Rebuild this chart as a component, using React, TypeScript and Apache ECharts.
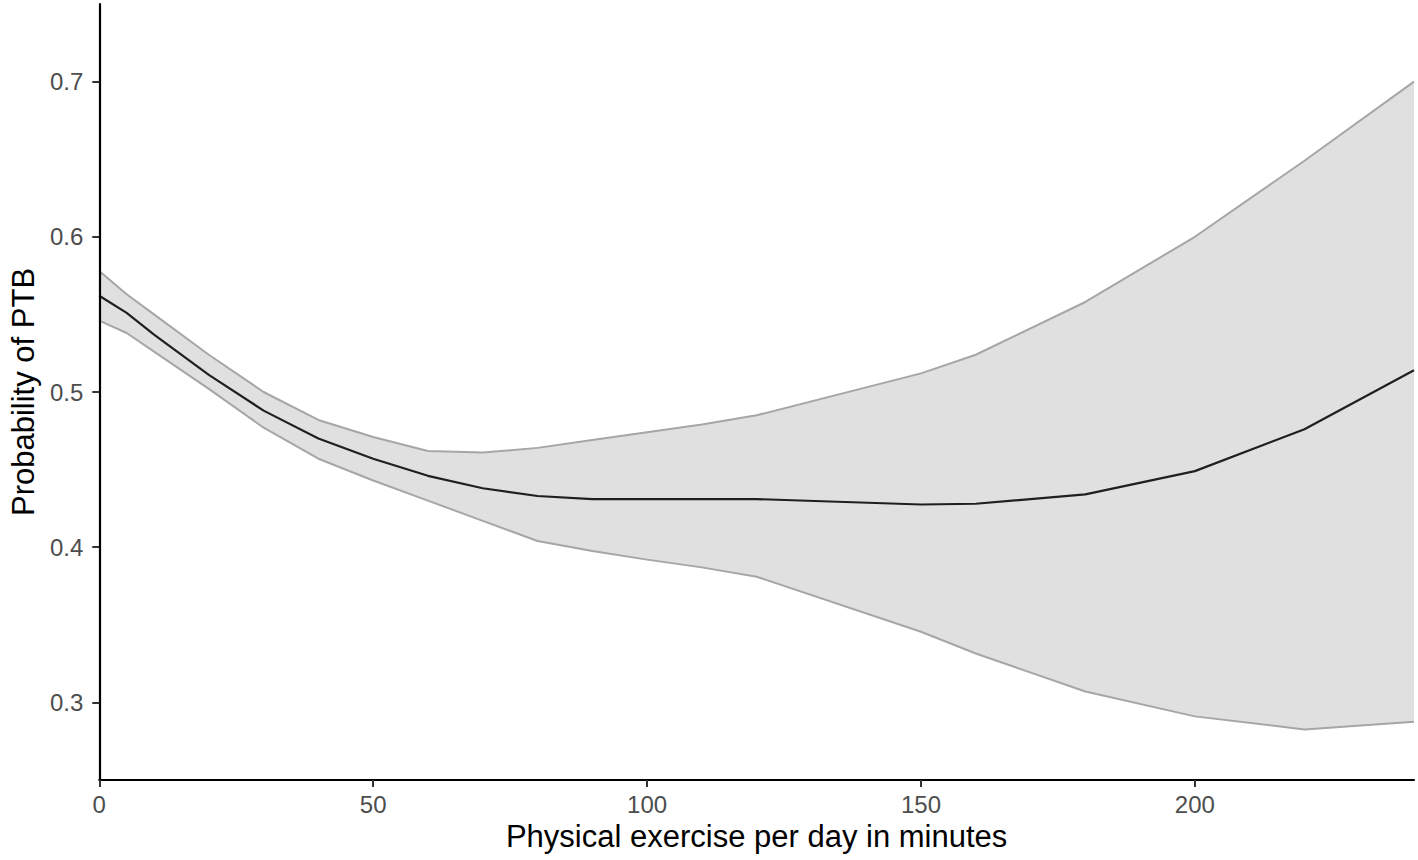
import React, { useEffect, useRef } from "react";
import * as echarts from "echarts";

const minutes = [0, 5, 10, 20, 30, 40, 50, 60, 70, 80, 90, 100, 110, 120, 150, 160, 180, 200, 220, 240];
const meanProb = [0.562, 0.551, 0.537, 0.511, 0.488, 0.470, 0.457, 0.446, 0.438, 0.433, 0.431, 0.431, 0.431, 0.431, 0.4275, 0.428, 0.434, 0.449, 0.476, 0.514];
const upperProb = [0.578, 0.563, 0.550, 0.524, 0.500, 0.482, 0.471, 0.462, 0.461, 0.464, 0.469, 0.474, 0.479, 0.485, 0.512, 0.524, 0.558, 0.600, 0.649, 0.700];
const lowerProb = [0.546, 0.538, 0.526, 0.502, 0.477, 0.457, 0.443, 0.430, 0.417, 0.404, 0.3975, 0.392, 0.387, 0.381, 0.3455, 0.3315, 0.307, 0.291, 0.2826, 0.2876];
const xTicks = [0, 50, 100, 150, 200];
const yTicks = [0.3, 0.4, 0.5, 0.6, 0.7];

export default function App() {
  const ref = useRef<HTMLDivElement>(null);
  useEffect(() => {
    if (!ref.current) return;
    const chart = echarts.init(ref.current, null, { renderer: "svg" });
    const font = "Liberation Sans, Arial, Helvetica, sans-serif";
    const lowerData = minutes.map((x, i) => [x, lowerProb[i]]);
    const upperData = minutes.map((x, i) => [x, upperProb[i]]);
    const meanData = minutes.map((x, i) => [x, meanProb[i]]);
    chart.setOption({
      animation: false,
      backgroundColor: "#ffffff",
      grid: { left: 98, right: 4, top: 4, bottom: 80, containLabel: false },
      xAxis: {
        type: "value",
        min: 0,
        max: 240,
        name: "Physical exercise per day in minutes",
        nameLocation: "middle",
        nameGap: 37,
        nameTextStyle: { fontFamily: font, fontSize: 31, color: "#000000" },
        axisLine: { show: true, onZero: false, lineStyle: { color: "#000000", width: 2.2 } },
        axisTick: { show: true, length: 7, lineStyle: { color: "#333333", width: 2 }, customValues: xTicks },
        axisLabel: { fontFamily: font, fontSize: 24, color: "#4d4d4d", margin: 12, customValues: xTicks },
        splitLine: { show: false },
        z: 10,
      },
      yAxis: {
        type: "value",
        min: 0.25,
        max: 0.75,
        name: "Probability of PTB",
        nameLocation: "middle",
        nameGap: 58,
        nameRotate: 90,
        nameTextStyle: { fontFamily: font, fontSize: 31, color: "#000000" },
        axisLine: { show: true, onZero: false, lineStyle: { color: "#000000", width: 2.2 } },
        axisTick: { show: true, length: 7, lineStyle: { color: "#333333", width: 2 }, customValues: yTicks },
        axisLabel: {
          fontFamily: font,
          fontSize: 24,
          color: "#4d4d4d",
          margin: 16,
          customValues: yTicks,
          formatter: (v: number) => v.toFixed(1),
        },
        splitLine: { show: false },
        z: 10,
      },
      series: [
        {
          type: "custom",
          data: [[0, 0.5]],
          silent: true,
          z: 1,
          renderItem: (params: any, api: any) => {
            const pts: number[][] = [];
            for (let i = 0; i < minutes.length; i++) pts.push(api.coord([minutes[i], upperProb[i]]));
            for (let i = minutes.length - 1; i >= 0; i--) pts.push(api.coord([minutes[i], lowerProb[i]]));
            return {
              type: "polygon",
              shape: { points: pts },
              style: { fill: "#e0e0e0", stroke: "none" },
            };
          },
        },
        {
          type: "line",
          data: lowerData,
          symbol: "none",
          lineStyle: { color: "#a6a6a6", width: 2 },
          z: 2,
        },
        {
          type: "line",
          data: upperData,
          symbol: "none",
          lineStyle: { color: "#a6a6a6", width: 2 },
          z: 2,
        },
        {
          type: "line",
          data: meanData,
          symbol: "none",
          lineStyle: { color: "#1f1f1f", width: 2.2 },
          z: 3,
        },
      ],
    });
    return () => chart.dispose();
  }, []);
  return (
    <div
      ref={ref}
      style={{ position: "fixed", left: 0, top: 0, width: 1418, height: 860, background: "#fff" }}
    />
  );
}
